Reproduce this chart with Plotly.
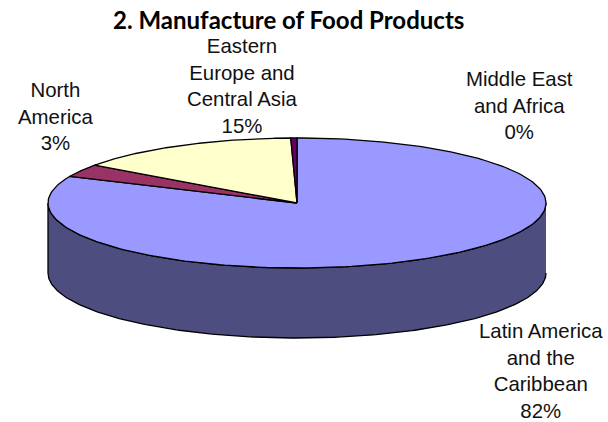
import numpy as np
import plotly.graph_objects as go

# Slice data, clockwise from twelve o'clock
regions = ["Latin America<br>and the<br>Caribbean", "North<br>America",
           "Eastern<br>Europe and<br>Central Asia", "Middle East<br>and Africa"]
shares = [81.7, 3.2, 14.7, 0.4]
top_colors = ["#9999FF", "#993366", "#FFFFCC", "#660066"]
wall_color = "#4D4D80"
title = "2. Manufacture of Food Products"
label_anchor_x = [541, 55, 242, 519]
label_anchor_y = [371, 116, 86, 105]

# Projected disc geometry in page pixels
CX, CY, RX, RY, DEPTH = 297, 203, 249, 65, 70


def rim(start_deg, end_deg, drop=0.0):
    """Points along the disc edge; angles run clockwise from the top."""
    t = np.radians(np.linspace(start_deg, end_deg, 240))
    return CX + RX * np.sin(t), CY - RY * np.cos(t) + drop


fig = go.Figure()

# Visible front wall of the cylinder
xa, ya = rim(90, 270)
xb, yb = rim(270, 90, DEPTH)
fig.add_trace(go.Scatter(
    x=np.r_[xa, xb], y=np.r_[ya, yb], fill="toself", mode="lines",
    fillcolor=wall_color, line=dict(color="black", width=1.3), hoverinfo="skip",
))

# Top face wedges
total = sum(shares)
start = 0.0
for share, color in zip(shares, top_colors):
    end = start + share / total * 360
    xs, ys = rim(start, end)
    fig.add_trace(go.Scatter(
        x=np.r_[CX, xs, CX], y=np.r_[CY, ys, CY], fill="toself", mode="lines",
        fillcolor=color, line=dict(color="black", width=1.3), hoverinfo="skip",
    ))
    start = end

annotations = [
    dict(x=x, y=y, text=f"{name}<br>{round(share / total * 100)}%", showarrow=False,
         xref="x", yref="y", xanchor="center", yanchor="middle", align="center",
         font=dict(family="Liberation Sans", size=20.4, color="#111111"))
    for name, share, x, y in zip(regions, shares, label_anchor_x, label_anchor_y)
]
annotations.append(dict(
    x=288.5, y=19, text=f"<b>{title}</b>", showarrow=False, xref="x", yref="y",
    xanchor="center", yanchor="middle",
    font=dict(family="Lato", size=24, color="#000000"),
))

fig.update_layout(
    width=608, height=422, margin=dict(l=0, r=0, t=0, b=0),
    paper_bgcolor="white", plot_bgcolor="white", showlegend=False,
    xaxis=dict(range=[0, 608], visible=False, fixedrange=True),
    yaxis=dict(range=[422, 0], visible=False, fixedrange=True),
    annotations=annotations,
)
fig.write_html("out.html", config={"displayModeBar": False})
